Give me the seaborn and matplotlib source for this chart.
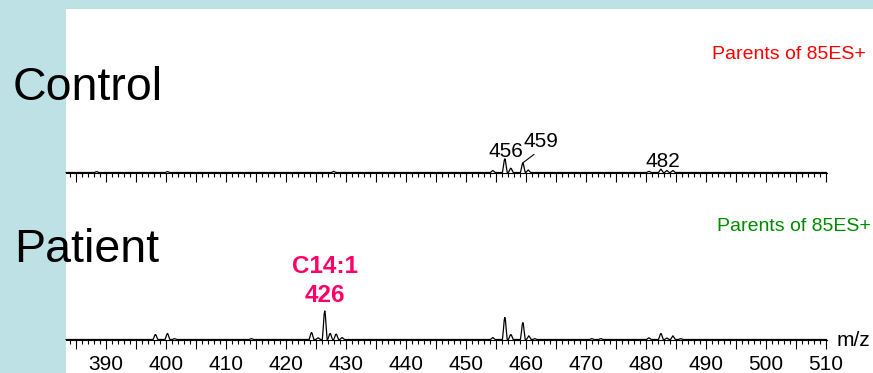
"""
Parents of 85ES+ scan: control vs patient, m/z 384-510 (C14:1 at 426).
Output: out.png
"""

import matplotlib
matplotlib.use("Agg")
import matplotlib.pyplot as plt
import seaborn as sns
from matplotlib.patches import Rectangle
from matplotlib.ticker import MultipleLocator, FuncFormatter

# spectrum traces (m/z, relative intensity, 426 peak in patient = 100)
control_mz = [383.4,
              388.1, 388.5, 388.9,
              399.9, 400.3, 400.7,
              427.6, 428.0, 428.4,
              454.1, 454.5, 454.9,
              456.1, 456.28, 456.4, 456.5, 456.6, 456.72, 456.9,
              457.1, 457.28, 457.4, 457.5, 457.6, 457.72, 457.9,
              459.1, 459.28, 459.4, 459.5, 459.6, 459.72, 459.9,
              460.0, 460.2, 460.4, 460.6, 460.8,
              480.1, 480.5, 480.9,
              482.1, 482.3, 482.5, 482.7, 482.9,
              483.1, 483.5, 483.9,
              484.1, 484.5, 484.9,
              510.1]
control_int = [0,
               0, 3, 0,
               0, 3, 0,
               0, 4, 0,
               0, 7, 0,
               0, 24, 42, 48, 42, 24, 0,
               0, 7.5, 13, 15, 13, 7.5, 0,
               0, 16.5, 29, 33, 29, 16.5, 0,
               0, 4.5, 9, 4.5, 0,
               0, 4, 0,
               0, 6, 12, 6, 0,
               0, 7, 0,
               0, 7, 0,
               0]

patient_mz = [383.4,
              397.9, 398.08, 398.2, 398.3, 398.4, 398.52, 398.7,
              399.9, 400.08, 400.2, 400.3, 400.4, 400.52, 400.7,
              401.1, 401.5, 401.9,
              413.9, 414.3, 414.7,
              423.9, 424.08, 424.2, 424.3, 424.4, 424.52, 424.7,
              425.0, 425.4, 425.8,
              426.1, 426.28, 426.4, 426.5, 426.6, 426.72, 426.9,
              427.0, 427.18, 427.3, 427.4, 427.5, 427.62, 427.8,
              428.0, 428.18, 428.3, 428.4, 428.5, 428.62, 428.8,
              429.0, 429.4, 429.8,
              454.1, 454.5, 454.9,
              456.1, 456.28, 456.4, 456.5, 456.6, 456.72, 456.9,
              457.1, 457.28, 457.4, 457.5, 457.6, 457.72, 457.9,
              459.1, 459.28, 459.4, 459.5, 459.6, 459.72, 459.9,
              460.1, 460.3, 460.5, 460.7, 460.9,
              461.1, 461.5, 461.9,
              470.6, 471.0, 471.4,
              472.1, 472.5, 472.9,
              480.1, 480.5, 480.9,
              482.1, 482.28, 482.4, 482.5, 482.6, 482.72, 482.9,
              483.1, 483.5, 483.9,
              484.1, 484.3, 484.5, 484.7, 484.9,
              485.4, 485.8, 486.2,
              510.1]
patient_int = [0,
               0, 8.8, 15.4, 17.5, 15.4, 8.8, 0,
               0, 10.5, 18.5, 21, 18.5, 10.5, 0,
               0, 3, 0,
               0, 3, 0,
               0, 12, 21.5, 24.5, 21.5, 12, 0,
               0, 6, 0,
               0, 50, 88, 100, 88, 50, 0,
               0, 10.5, 18.5, 21, 18.5, 10.5, 0,
               0, 9.5, 16.7, 19, 16.7, 9.5, 0,
               0, 7, 0,
               0, 7, 0,
               0, 38, 68, 77, 68, 38, 0,
               0, 9, 15.4, 17.5, 15.4, 9, 0,
               0, 29, 52, 59, 52, 29, 0,
               0, 6.5, 13, 6.5, 0,
               0, 3, 0,
               0, 3, 0,
               0, 3, 0,
               0, 6, 0,
               0, 10.5, 18.5, 21, 18.5, 10.5, 0,
               0, 5, 0,
               0, 6.5, 13, 6.5, 0,
               0, 3, 0,
               0]

# peak labels on the control trace: (text, m/z, intensity)
control_labels = [("456", 456.5, 48), ("459", 459.5, 33), ("482", 482.5, 12)]

panel_names = ["Control", "Patient"]
scan_title = "Parents of 85ES+"
scan_colors = ["#FF0000", "#008A00"]
highlight_name = "C14:1"
highlight_mz = 426

X_MIN, X_MAX = 383.4, 510.1
W, H = 873, 373
BG = "#BDE1E5"
PINK = "#FF0066"


def fx(px):
    return px / W


def fy(px):
    return 1 - px / H


def style_axis(ax, labels):
    ax.set_xlim(X_MIN, X_MAX)
    ax.set_ylim(0, 350)
    ax.set_facecolor("none")
    for side in ["left", "top", "right"]:
        ax.spines[side].set_visible(False)
    ax.spines["bottom"].set_color("black")
    ax.spines["bottom"].set_linewidth(0.8)
    ax.set_yticks([])
    ax.set_xlabel("")
    ax.set_ylabel("")
    ax.xaxis.set_major_locator(MultipleLocator(5))
    ax.xaxis.set_minor_locator(MultipleLocator(1))
    ax.xaxis.set_major_formatter(FuncFormatter(
        lambda v, p: f"{v:.0f}" if round(v) % 10 == 0 else ""))
    ax.tick_params(axis="x", which="major", bottom=True, length=6.5, width=0.8,
                   direction="out", colors="black", labelsize=15, pad=4.5,
                   labelbottom=labels)
    ax.tick_params(axis="x", which="minor", bottom=True, length=3.2, width=0.8,
                   direction="out", colors="black")


sns.set_theme(style="white")
plt.rcParams["font.family"] = ["Liberation Sans", "DejaVu Sans"]
plt.rcParams["text.color"] = "black"

fig = plt.figure(figsize=(W / 100, H / 100), dpi=100, facecolor=BG)
fig.patches.append(Rectangle((fx(66), 0), 1 - fx(66), fy(9), transform=fig.transFigure,
                             facecolor="white", edgecolor="none", zorder=-5))

ax_w = fx(826.6) - fx(66)
ax_top = fig.add_axes([fx(66), fy(172.5), ax_w, 100 / H])
ax_bot = fig.add_axes([fx(66), fy(339.5), ax_w, 100 / H])

for ax, mz, inten, labels in [(ax_top, control_mz, control_int, False),
                              (ax_bot, patient_mz, patient_int, True)]:
    sns.lineplot(x=mz, y=inten, ax=ax, color="black", linewidth=0.9)
    ax.lines[-1].set_clip_on(False)
    style_axis(ax, labels)

# labels on control peaks
ax_top.annotate(control_labels[0][0], xy=(control_labels[0][1], control_labels[0][2]),
                xytext=(456.65, 54), textcoords="data", ha="center", va="baseline",
                fontsize=15, color="black")
ax_top.annotate(control_labels[1][0], xy=(control_labels[1][1] - 0.05, control_labels[1][2]),
                xytext=(462.5, 89), textcoords="data", ha="center", va="baseline",
                fontsize=15, color="black",
                arrowprops=dict(arrowstyle="-", color="black", lw=0.8,
                                relpos=(0.43, 0.0), shrinkA=0, shrinkB=0))
ax_top.annotate(control_labels[2][0], xy=(control_labels[2][1], control_labels[2][2]),
                xytext=(482.8, 19), textcoords="data", ha="center", va="baseline",
                fontsize=15, color="black")

# highlighted patient peak
ax_bot.text(highlight_mz + 0.6, 131, f"{highlight_name}\n{highlight_mz}", color=PINK,
            fontsize=17.5, fontweight="bold", ha="center", va="baseline",
            linespacing=1.33)

# panel names and scan titles
fig.text(fx(13), fy(99.5), panel_names[0], fontsize=33.5, ha="left", va="baseline")
fig.text(fx(14), fy(262), panel_names[1], fontsize=33.5, ha="left", va="baseline")
fig.text(fx(866), fy(59.3), scan_title, color=scan_colors[0], fontsize=14,
         ha="right", va="baseline")
fig.text(fx(871), fy(231), scan_title, color=scan_colors[1], fontsize=14,
         ha="right", va="baseline")
fig.text(fx(837), fy(341), "m/z", fontsize=15, ha="left", va="center")

fig.savefig("out.png", dpi=100, facecolor=BG)
plt.close(fig)
print("Saved: out.png")
